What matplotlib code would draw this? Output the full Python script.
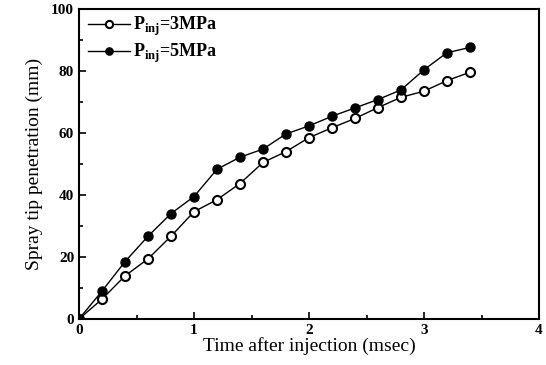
import matplotlib
matplotlib.use("Agg")
import matplotlib.pyplot as plt
from matplotlib.ticker import MultipleLocator

plt.rcParams['font.family'] = ['Liberation Serif', 'DejaVu Serif']
plt.rcParams['mathtext.fontset'] = 'custom'
plt.rcParams['mathtext.rm'] = 'Liberation Serif'
plt.rcParams['mathtext.bf'] = 'Liberation Serif:bold'

time = [0.0, 0.2, 0.4, 0.6, 0.8, 1.0, 1.2, 1.4, 1.6, 1.8, 2.0, 2.2, 2.4, 2.6, 2.8, 3.0, 3.2, 3.4]
pen_3mpa = [0.0, 6.4, 13.9, 19.4, 26.7, 34.6, 38.5, 43.7, 50.5, 54.0, 58.5, 61.7, 64.7, 68.2, 71.5, 73.5, 76.9, 79.6]
pen_5mpa = [0.0, 9.0, 18.5, 26.7, 34.0, 39.5, 48.3, 52.2, 54.8, 59.7, 62.3, 65.4, 68.1, 70.8, 73.9, 80.4, 85.9, 87.6]
labels = [r'P$_{\mathbf{inj}}$=3MPa', r'P$_{\mathbf{inj}}$=5MPa']

fig = plt.figure(figsize=(5.46, 3.65), dpi=100)
ax = fig.add_axes([79/546, 1-319/365, 460/546, 310/365])

ax.plot(time, pen_3mpa, '-o', color='black', lw=1.0, ms=6.5, mfc='white', mec='black', mew=1.5, label=labels[0])
ax.plot(time, pen_5mpa, '-o', color='black', lw=1.0, ms=6.5, mfc='black', mec='black', mew=1.0, label=labels[1])

ax.set_xlim(0, 4)
ax.set_ylim(0, 100)
ax.xaxis.set_major_locator(MultipleLocator(1))
ax.xaxis.set_minor_locator(MultipleLocator(0.5))
ax.yaxis.set_major_locator(MultipleLocator(20))
ax.yaxis.set_minor_locator(MultipleLocator(10))
ax.tick_params(which='both', direction='in', top=False, right=False, labelsize=11, width=1.2)
ax.tick_params(which='major', length=5)
ax.tick_params(which='minor', length=3)
for lab in ax.get_xticklabels() + ax.get_yticklabels():
    lab.set_fontweight('bold')
for s in ax.spines.values():
    s.set_linewidth(1.5)

ax.set_xlabel('Time after injection (msec)', fontsize=14, labelpad=0)
ax.set_ylabel('Spray tip penetration (mm)', fontsize=14, labelpad=6)

leg = ax.legend(loc='upper left', frameon=False, fontsize=13, handlelength=2.3,
                handletextpad=0.2, borderaxespad=0.1, labelspacing=0.2, markerscale=0.8,
                bbox_to_anchor=(0.0, 1.01))
for t in leg.get_texts():
    t.set_fontweight('bold')

fig.savefig('out.png', dpi=100)
